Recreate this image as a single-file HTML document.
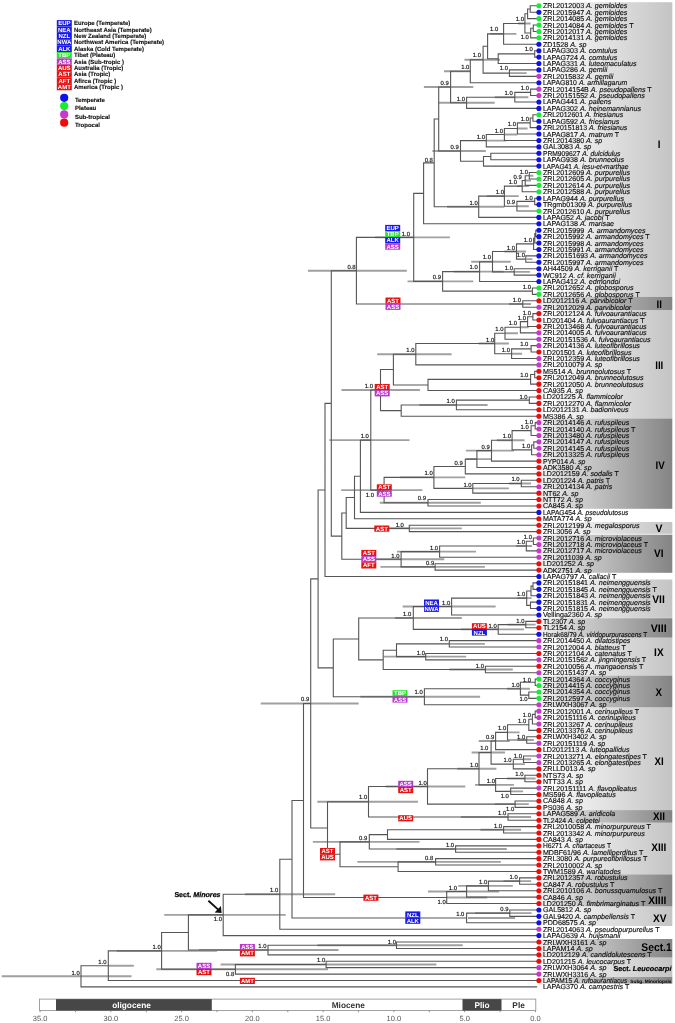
<!DOCTYPE html><html><head><meta charset="utf-8"><style>
html,body{margin:0;padding:0;background:#fff;}
svg{display:block;}
text{font-family:"Liberation Sans",Arial,sans-serif;text-rendering:geometricPrecision;}
.lf{font-size:7.14px;fill:#111;stroke:#111;stroke-width:0.15px;}
.nl{font-size:5.9px;fill:#111;stroke:#111;stroke-width:0.16px;}
.rb{font-size:6px;font-weight:bold;fill:#fff;}
.lg{font-size:6px;font-weight:bold;fill:#111;stroke:#111;stroke-width:0.12px;}
.bl{font-weight:bold;fill:#000;}
.ax{font-size:7.5px;fill:#555;}
</style></head><body>
<svg width="675" height="1023" viewBox="0 0 675 1023">
<defs>
<linearGradient id="gl" x1="0" x2="1" y1="0" y2="0"><stop offset="0" stop-color="#ffffff"/><stop offset="0.15" stop-color="#f6f6f6"/><stop offset="1" stop-color="#c4c4c4"/></linearGradient>
<linearGradient id="gd" x1="0" x2="1" y1="0" y2="0"><stop offset="0" stop-color="#f0f0f0"/><stop offset="0.15" stop-color="#dedede"/><stop offset="1" stop-color="#848484"/></linearGradient>
</defs>
<rect x="541.0" y="2.20" width="131.3" height="294.70" fill="url(#gl)"/>
<rect x="541.0" y="296.90" width="131.3" height="13.10" fill="url(#gd)"/>
<rect x="541.0" y="310.00" width="131.3" height="108.50" fill="url(#gl)"/>
<rect x="541.0" y="418.50" width="131.3" height="90.30" fill="url(#gd)"/>
<rect x="541.0" y="522.00" width="131.3" height="11.80" fill="url(#gl)"/>
<rect x="541.0" y="534.70" width="131.3" height="38.10" fill="url(#gd)"/>
<rect x="541.0" y="579.50" width="131.3" height="38.40" fill="url(#gl)"/>
<rect x="541.0" y="618.20" width="131.3" height="19.50" fill="url(#gd)"/>
<rect x="541.0" y="638.00" width="131.3" height="37.60" fill="url(#gl)"/>
<rect x="541.0" y="675.60" width="131.3" height="32.00" fill="url(#gd)"/>
<rect x="541.0" y="707.60" width="131.3" height="102.50" fill="url(#gl)"/>
<rect x="541.0" y="810.10" width="131.3" height="12.70" fill="url(#gd)"/>
<rect x="541.0" y="822.80" width="131.3" height="51.60" fill="url(#gl)"/>
<rect x="541.0" y="874.40" width="131.3" height="32.20" fill="url(#gd)"/>
<rect x="541.0" y="906.90" width="131.3" height="19.10" fill="url(#gl)"/>
<rect x="541.0" y="939.00" width="131.3" height="18.70" fill="url(#gd)"/>
<rect x="541.0" y="957.70" width="131.3" height="19.30" fill="url(#gl)"/>
<rect x="541.0" y="977.00" width="131.3" height="6.70" fill="url(#gd)"/>
<path d="M518.00 23.43H530.70M490.00 33.85H516.40M509.00 73.13H526.70M464.40 59.71H500.00M444.00 71.23H470.70M494.70 97.18H528.40M438.70 102.79H494.70M423.90 87.01H473.30M517.40 128.44H527.60M504.40 134.45H517.40M486.30 140.66H506.20M432.40 150.98H485.80M530.00 175.73H533.40M524.60 180.54H531.00M517.00 186.15H529.00M517.00 206.19H528.80M486.70 196.17H518.70M447.00 206.79H504.40M526.70 259.09H532.40M504.40 251.48H526.10M514.00 271.92H530.00M471.20 261.70H510.70M453.80 271.62H503.60M407.50 281.39H473.30M375.00 237.37H449.90M508.90 303.98H531.10M307.90 270.68H406.80M520.00 327.23H528.80M505.00 333.24H518.00M511.60 353.68H522.20M478.70 343.46H508.90M377.20 354.18H451.60M419.30 404.98H487.60M341.50 390.07H419.90M496.80 440.25H524.50M465.90 450.67H513.90M466.20 459.08H491.10M508.90 483.53H531.10M472.80 488.34H508.90M400.00 477.42H465.30M379.80 502.77H480.80M341.20 490.09H422.40M329.30 440.08H409.50M380.00 528.42H461.80M516.00 546.05H532.00M397.00 551.66H476.00M380.40 566.89H484.90M375.00 559.28H444.30M517.40 598.15H531.60M402.70 606.57H495.60M507.50 624.61H535.60M460.90 629.42H524.00M395.00 617.99H461.80M449.30 643.84H484.90M383.70 656.67H466.20M449.30 669.49H512.80M507.00 688.73H530.00M360.40 696.75H480.10M517.40 740.03H533.80M507.50 732.42H519.60M478.70 741.03H509.80M523.50 759.27H531.10M513.30 764.08H524.90M471.60 752.56H505.00M507.00 778.51H535.60M510.70 791.33H523.10M475.00 784.92H513.90M457.30 768.74H496.40M494.70 804.16H528.80M385.60 786.45H465.30M460.90 816.98H531.10M317.30 801.71H417.90M480.40 829.81H521.00M396.30 849.04H506.80M312.80 841.83H419.50M357.30 861.87H500.90M260.80 703.44H358.70M503.60 881.11H531.10M458.20 885.92H512.80M428.00 891.53H499.10M446.70 897.54H487.20M475.00 913.17H531.60M468.00 917.98H515.10M245.00 894.22H335.20M164.20 914.91H285.80M317.30 945.23H462.70M199.00 950.04H338.50M220.60 964.47H436.40M156.30 969.28H328.10M116.70 950.88H217.00M108.30 965.69H133.80M1.70 976.30H131.50" stroke="#a0a0a0" stroke-width="1.9" fill="none"/>
<path d="M530.20 5.80V12.21M530.20 5.80H536.60M530.20 12.21H536.60M527.60 9.01V18.62M527.60 9.01H530.20M527.60 18.62H536.60M533.30 25.04V31.45M533.30 25.04H536.60M533.30 31.45H536.60M530.70 28.24V37.86M530.70 28.24H533.30M530.70 37.86H536.60M524.90 13.82V33.05M524.90 13.82H527.60M524.90 33.05H530.70M503.60 23.43V44.27M503.60 23.43H524.90M503.60 44.27H536.60M534.70 50.69V57.10M534.70 50.69H536.60M534.70 57.10H536.60M498.20 53.89V63.51M498.20 53.89H534.70M498.20 63.51H536.60M487.60 33.85V58.70M487.60 33.85H503.60M487.60 58.70H498.20M509.40 69.92V76.34M509.40 69.92H536.60M509.40 76.34H536.60M483.10 46.28V73.13M483.10 46.28H487.60M483.10 73.13H509.40M470.30 59.71V82.75M470.30 59.71H483.10M470.30 82.75H536.60M530.60 89.16V95.57M530.60 89.16H536.60M530.60 95.57H536.60M514.80 92.37V101.99M514.80 92.37H530.60M514.80 101.99H536.60M466.60 97.18V108.40M466.60 97.18H514.80M466.60 108.40H536.60M450.60 71.23V102.79M450.60 71.23H470.30M450.60 102.79H466.60M532.90 114.81V121.22M532.90 114.81H536.60M532.90 121.22H536.60M530.20 118.02V127.64M530.20 118.02H532.90M530.20 127.64H536.60M517.40 122.83V134.05M517.40 122.83H530.20M517.40 134.05H536.60M504.40 128.44V140.46M504.40 128.44H517.40M504.40 140.46H536.60M486.30 134.45V146.88M486.30 134.45H504.40M486.30 146.88H536.60M490.80 153.29V159.70M490.80 153.29H536.60M490.80 159.70H536.60M483.50 156.49V166.11M483.50 156.49H490.80M483.50 166.11H536.60M460.50 140.66V161.30M460.50 140.66H486.30M460.50 161.30H483.50M438.70 87.01V150.98M438.70 87.01H450.60M438.70 150.98H460.50M529.30 172.53V178.94M529.30 172.53H536.60M529.30 178.94H536.60M525.20 175.73V185.35M525.20 175.73H529.30M525.20 185.35H536.60M522.20 180.54V191.76M522.20 180.54H525.20M522.20 191.76H536.60M534.70 198.18V204.59M534.70 198.18H536.60M534.70 204.59H536.60M516.90 201.38V211.00M516.90 201.38H534.70M516.90 211.00H536.60M504.40 186.15V206.19M504.40 186.15H522.20M504.40 206.19H516.90M478.70 196.17V217.41M478.70 196.17H504.40M478.70 217.41H536.60M434.20 119.00V206.79M434.20 119.00H438.70M434.20 206.79H478.70M423.60 162.89V223.82M423.60 162.89H434.20M423.60 223.82H536.60M535.80 230.24V236.65M535.80 230.24H536.60M535.80 236.65H536.60M534.80 233.44V243.06M534.80 233.44H535.80M534.80 243.06H536.60M533.60 238.25V249.47M533.60 238.25H534.80M533.60 249.47H536.60M525.80 255.89V262.30M525.80 255.89H536.60M525.80 262.30H536.60M516.50 243.86V259.09M516.50 243.86H533.60M516.50 259.09H525.80M514.20 268.71V275.12M514.20 268.71H536.60M514.20 275.12H536.60M492.50 251.48V271.92M492.50 251.48H516.50M492.50 271.92H514.20M479.60 261.70V281.54M479.60 261.70H492.50M479.60 281.54H536.60M532.40 287.95V294.36M532.40 287.95H536.60M532.40 294.36H536.60M442.60 271.62V291.16M442.60 271.62H479.60M442.60 291.16H532.40M413.70 193.36V281.39M413.70 193.36H423.60M413.70 281.39H442.60M522.80 300.77V307.19M522.80 300.77H536.60M522.80 307.19H536.60M356.40 237.37V303.98M356.40 237.37H413.70M356.40 303.98H522.80M532.90 313.60V320.01M532.90 313.60H536.60M532.90 320.01H536.60M527.60 316.81V326.43M527.60 316.81H532.90M527.60 326.43H536.60M520.40 321.62V332.84M520.40 321.62H527.60M520.40 332.84H536.60M505.00 327.23V339.25M505.00 327.23H520.40M505.00 339.25H536.60M531.10 345.66V352.07M531.10 345.66H536.60M531.10 352.07H536.60M511.60 348.87V358.49M511.60 348.87H531.10M511.60 358.49H536.60M494.70 333.24V353.68M494.70 333.24H505.00M494.70 353.68H511.60M415.80 343.46V364.90M415.80 343.46H494.70M415.80 364.90H536.60M534.70 371.31V377.72M534.70 371.31H536.60M534.70 377.72H536.60M530.60 374.52V384.14M530.60 374.52H534.70M530.60 384.14H536.60M428.00 379.33V390.55M428.00 379.33H530.60M428.00 390.55H536.60M393.40 354.18V384.94M393.40 354.18H415.80M393.40 384.94H428.00M529.30 396.96V403.38M529.30 396.96H536.60M529.30 403.38H536.60M456.40 400.17V409.79M456.40 400.17H529.30M456.40 409.79H536.60M401.20 404.98V416.20M401.20 404.98H456.40M401.20 416.20H536.60M380.50 369.56V410.59M380.50 369.56H393.40M380.50 410.59H401.20M535.20 422.61V429.02M535.20 422.61H536.60M535.20 429.02H536.60M531.10 425.82V435.44M531.10 425.82H535.20M531.10 435.44H536.60M533.80 441.85V448.26M533.80 441.85H536.60M533.80 448.26H536.60M531.60 445.06V454.68M531.60 445.06H533.80M531.60 454.68H536.60M512.10 430.63V449.87M512.10 430.63H531.10M512.10 449.87H531.60M491.50 440.25V461.09M491.50 440.25H512.10M491.50 461.09H536.60M476.90 450.67V467.50M476.90 450.67H491.50M476.90 467.50H536.60M465.30 459.08V473.91M465.30 459.08H476.90M465.30 473.91H536.60M521.30 480.32V486.74M521.30 480.32H536.60M521.30 486.74H536.60M472.80 483.53V493.15M472.80 483.53H521.30M472.80 493.15H536.60M433.90 466.50V488.34M433.90 466.50H465.30M433.90 488.34H472.80M428.00 499.56V505.97M428.00 499.56H536.60M428.00 505.97H536.60M384.10 477.42V502.77M384.10 477.42H433.90M384.10 502.77H428.00M370.80 390.07V490.09M370.80 390.07H380.50M370.80 490.09H384.10M360.40 440.08V512.39M360.40 440.08H370.80M360.40 512.39H536.60M354.50 476.24V518.80M354.50 476.24H360.40M354.50 518.80H536.60M409.30 525.21V531.62M409.30 525.21H536.60M409.30 531.62H536.60M346.20 497.52V528.42M346.20 497.52H354.50M346.20 528.42H409.30M533.40 538.04V544.45M533.40 538.04H536.60M533.40 544.45H536.60M526.30 541.24V550.86M526.30 541.24H533.40M526.30 550.86H536.60M439.60 546.05V557.27M439.60 546.05H526.30M439.60 557.27H536.60M435.10 563.69V570.10M435.10 563.69H536.60M435.10 570.10H536.60M401.10 551.66V566.89M401.10 551.66H439.60M401.10 566.89H435.10M341.80 512.97V559.28M341.80 512.97H346.20M341.80 559.28H401.10M331.30 270.68V536.12M331.30 270.68H356.40M331.30 536.12H341.80M325.00 403.40V576.51M325.00 403.40H331.30M325.00 576.51H536.60M533.00 582.92V589.34M533.00 582.92H536.60M533.00 589.34H536.60M531.00 586.13V595.75M531.00 586.13H533.00M531.00 595.75H536.60M530.50 602.16V608.57M530.50 602.16H536.60M530.50 608.57H536.60M526.70 590.94V605.37M526.70 590.94H531.00M526.70 605.37H530.50M451.60 598.15V614.99M451.60 598.15H526.70M451.60 614.99H536.60M525.80 621.40V627.81M525.80 621.40H536.60M525.80 627.81H536.60M498.20 624.61V634.22M498.20 624.61H525.80M498.20 634.22H536.60M413.30 606.57V629.42M413.30 606.57H451.60M413.30 629.42H498.20M449.30 640.64V647.05M449.30 640.64H536.60M449.30 647.05H536.60M425.70 653.46V659.87M425.70 653.46H536.60M425.70 659.87H536.60M396.50 643.84V656.67M396.50 643.84H449.30M396.50 656.67H425.70M485.40 666.29V672.70M485.40 666.29H536.60M485.40 672.70H536.60M383.20 650.26V669.49M383.20 650.26H396.50M383.20 669.49H485.40M358.70 617.99V659.87M358.70 617.99H413.30M358.70 659.87H383.20M535.20 679.11V685.52M535.20 679.11H536.60M535.20 685.52H536.60M528.80 691.94V698.35M528.80 691.94H536.60M528.80 698.35H536.60M520.40 682.32V695.14M520.40 682.32H535.20M520.40 695.14H528.80M424.40 688.73V704.76M424.40 688.73H520.40M424.40 704.76H536.60M333.30 638.93V696.75M333.30 638.93H358.70M333.30 696.75H424.40M318.10 489.96V667.84M318.10 489.96H325.00M318.10 667.84H333.30M535.20 711.17V717.59M535.20 711.17H536.60M535.20 717.59H536.60M532.40 714.38V724.00M532.40 714.38H535.20M532.40 724.00H536.60M528.80 719.19V730.41M528.80 719.19H532.40M528.80 730.41H536.60M526.70 736.82V743.24M526.70 736.82H536.60M526.70 743.24H536.60M507.50 724.80V740.03M507.50 724.80H528.80M507.50 740.03H526.70M495.60 732.42V749.65M495.60 732.42H507.50M495.60 749.65H536.60M523.50 756.06V762.47M523.50 756.06H536.60M523.50 762.47H536.60M513.30 759.27V768.89M513.30 759.27H523.50M513.30 768.89H536.60M491.10 741.03V764.08M491.10 741.03H495.60M491.10 764.08H513.30M524.90 775.30V781.71M524.90 775.30H536.60M524.90 781.71H536.60M510.70 788.12V794.54M510.70 788.12H536.60M510.70 794.54H536.60M495.60 778.51V791.33M495.60 778.51H524.90M495.60 791.33H510.70M479.00 752.56V784.92M479.00 752.56H491.10M479.00 784.92H495.60M515.10 800.95V807.36M515.10 800.95H536.60M515.10 807.36H536.60M427.50 768.74V804.16M427.50 768.74H479.00M427.50 804.16H515.10M508.00 813.77V820.19M508.00 813.77H536.60M508.00 820.19H536.60M368.50 786.45V816.98M368.50 786.45H427.50M368.50 816.98H508.00M503.60 826.60V833.01M503.60 826.60H536.60M503.60 833.01H536.60M387.50 829.81V839.42M387.50 829.81H503.60M387.50 839.42H536.60M455.60 845.84V852.25M455.60 845.84H536.60M455.60 852.25H536.60M369.30 834.62V849.04M369.30 834.62H387.50M369.30 849.04H455.60M435.60 858.66V865.07M435.60 858.66H536.60M435.60 865.07H536.60M398.10 861.87V871.49M398.10 861.87H435.60M398.10 871.49H536.60M340.00 841.83V866.68M340.00 841.83H369.30M340.00 866.68H398.10M327.50 801.71V854.25M327.50 801.71H368.50M327.50 854.25H340.00M310.70 578.90V827.98M310.70 578.90H318.10M310.70 827.98H327.50M519.60 877.90V884.31M519.60 877.90H536.60M519.60 884.31H536.60M488.40 881.11V890.72M488.40 881.11H519.60M488.40 890.72H536.60M466.60 885.92V897.14M466.60 885.92H488.40M466.60 897.14H536.60M446.70 891.53V903.55M446.70 891.53H466.60M446.70 903.55H536.60M303.50 703.44V897.54M303.50 703.44H310.70M303.50 897.54H446.70M509.80 909.96V916.37M509.80 909.96H536.60M509.80 916.37H536.60M466.60 913.17V922.79M466.60 913.17H509.80M466.60 922.79H536.60M292.00 800.49V917.98M292.00 800.49H303.50M292.00 917.98H466.60M279.80 859.23V929.20M279.80 859.23H292.00M279.80 929.20H536.60M223.20 894.22V935.61M223.20 894.22H279.80M223.20 935.61H536.60M396.50 942.02V948.44M396.50 942.02H536.60M396.50 948.44H536.60M268.00 945.23V954.85M268.00 945.23H396.50M268.00 954.85H536.60M188.40 914.91V950.04M188.40 914.91H223.20M188.40 950.04H268.00M326.10 961.26V967.67M326.10 961.26H536.60M326.10 967.67H536.60M235.40 964.47V974.09M235.40 964.47H326.10M235.40 974.09H536.60M161.60 932.48V969.28M161.60 932.48H188.40M161.60 969.28H235.40M108.30 950.88V980.50M108.30 950.88H161.60M108.30 980.50H536.60M81.00 965.69V986.91M81.00 965.69H108.30M81.00 986.91H536.60" stroke="#565656" stroke-width="1.1" fill="none" stroke-linecap="square"/>
<text class="nl" x="528.9" y="39.0" text-anchor="end">1.0</text>
<text class="nl" x="524.0" y="21.1" text-anchor="end">1.0</text>
<text class="nl" x="498.2" y="31.4" text-anchor="end">1.0</text>
<text class="nl" x="532.9" y="51.3" text-anchor="end">1.0</text>
<text class="nl" x="508.0" y="70.3" text-anchor="end">1.0</text>
<text class="nl" x="481.0" y="57.0" text-anchor="end">1.0</text>
<text class="nl" x="469.4" y="69.4" text-anchor="end">1.0</text>
<text class="nl" x="529.0" y="90.4" text-anchor="end">1.0</text>
<text class="nl" x="512.8" y="95.2" text-anchor="end">1.0</text>
<text class="nl" x="465.0" y="100.5" text-anchor="end">1.0</text>
<text class="nl" x="448.8" y="84.7" text-anchor="end">0.9</text>
<text class="nl" x="529.0" y="120.8" text-anchor="end">1.0</text>
<text class="nl" x="516.0" y="126.1" text-anchor="end">1.0</text>
<text class="nl" x="503.0" y="132.7" text-anchor="end">1.0</text>
<text class="nl" x="485.0" y="138.5" text-anchor="end">1.0</text>
<text class="nl" x="458.8" y="149.2" text-anchor="end">0.9</text>
<text class="nl" x="528.0" y="173.9" text-anchor="end">1.0</text>
<text class="nl" x="521.7" y="178.9" text-anchor="end">0.9</text>
<text class="nl" x="517.0" y="184.1" text-anchor="end">1.0</text>
<text class="nl" x="532.9" y="199.7" text-anchor="end">1.0</text>
<text class="nl" x="515.0" y="204.1" text-anchor="end">0.9</text>
<text class="nl" x="504.0" y="194.0" text-anchor="end">1.0</text>
<text class="nl" x="477.8" y="204.6" text-anchor="end">1.0</text>
<text class="nl" x="432.9" y="161.5" text-anchor="end">0.8</text>
<text class="nl" x="532.0" y="242.1" text-anchor="end">1.0</text>
<text class="nl" x="525.0" y="256.8" text-anchor="end">1.0</text>
<text class="nl" x="515.0" y="249.7" text-anchor="end">1.0</text>
<text class="nl" x="513.0" y="269.7" text-anchor="end">1.0</text>
<text class="nl" x="491.0" y="259.4" text-anchor="end">1.0</text>
<text class="nl" x="477.8" y="269.1" text-anchor="end">1.0</text>
<text class="nl" x="531.0" y="289.3" text-anchor="end">1.0</text>
<text class="nl" x="441.0" y="279.0" text-anchor="end">0.9</text>
<text class="nl" x="410.0" y="236.1" text-anchor="end">1.0</text>
<text class="nl" x="521.0" y="302.2" text-anchor="end">1.0</text>
<text class="nl" x="355.6" y="268.8" text-anchor="end">0.8</text>
<text class="nl" x="531.0" y="314.9" text-anchor="end">1.0</text>
<text class="nl" x="526.0" y="319.7" text-anchor="end">1.0</text>
<text class="nl" x="517.0" y="325.1" text-anchor="end">1.0</text>
<text class="nl" x="503.5" y="330.9" text-anchor="end">1.0</text>
<text class="nl" x="528.4" y="346.3" text-anchor="end">1.0</text>
<text class="nl" x="510.0" y="351.7" text-anchor="end">1.0</text>
<text class="nl" x="494.3" y="341.5" text-anchor="end">1.0</text>
<text class="nl" x="414.5" y="352.1" text-anchor="end">1.0</text>
<text class="nl" x="528.4" y="377.2" text-anchor="end">1.0</text>
<text class="nl" x="527.6" y="398.5" text-anchor="end">1.0</text>
<text class="nl" x="454.7" y="402.6" text-anchor="end">1.0</text>
<text class="nl" x="373.0" y="388.1" text-anchor="end">1.0</text>
<text class="nl" x="533.0" y="424.3" text-anchor="end">1.0</text>
<text class="nl" x="528.8" y="429.3" text-anchor="end">1.0</text>
<text class="nl" x="530.2" y="447.9" text-anchor="end">1.0</text>
<text class="nl" x="511.0" y="438.1" text-anchor="end">1.0</text>
<text class="nl" x="489.7" y="449.1" text-anchor="end">0.9</text>
<text class="nl" x="462.7" y="464.8" text-anchor="end">0.9</text>
<text class="nl" x="519.6" y="480.8" text-anchor="end">1.0</text>
<text class="nl" x="471.6" y="486.5" text-anchor="end">1.0</text>
<text class="nl" x="432.8" y="475.4" text-anchor="end">1.0</text>
<text class="nl" x="426.0" y="500.1" text-anchor="end">0.9</text>
<text class="nl" x="374.0" y="496.5" text-anchor="end">1.0</text>
<text class="nl" x="368.9" y="438.0" text-anchor="end">1.0</text>
<text class="nl" x="403.9" y="527.0" text-anchor="end">1.0</text>
<text class="nl" x="532.0" y="539.2" text-anchor="end">1.0</text>
<text class="nl" x="525.0" y="544.0" text-anchor="end">1.0</text>
<text class="nl" x="438.1" y="549.9" text-anchor="end">1.0</text>
<text class="nl" x="434.2" y="565.0" text-anchor="end">0.9</text>
<text class="nl" x="399.5" y="558.4" text-anchor="end">1.0</text>
<text class="nl" x="525.2" y="595.5" text-anchor="end">1.0</text>
<text class="nl" x="450.2" y="604.8" text-anchor="end">1.0</text>
<text class="nl" x="524.5" y="622.5" text-anchor="end">1.0</text>
<text class="nl" x="496.8" y="627.9" text-anchor="end">1.0</text>
<text class="nl" x="411.2" y="616.0" text-anchor="end">1.0</text>
<text class="nl" x="448.0" y="641.3" text-anchor="end">1.0</text>
<text class="nl" x="425.0" y="655.1" text-anchor="end">1.0</text>
<text class="nl" x="484.0" y="667.7" text-anchor="end">1.0</text>
<text class="nl" x="531.0" y="681.5" text-anchor="end">1.0</text>
<text class="nl" x="527.6" y="701.4" text-anchor="end">1.0</text>
<text class="nl" x="519.6" y="686.9" text-anchor="end">1.0</text>
<text class="nl" x="422.7" y="694.1" text-anchor="end">1.0</text>
<text class="nl" x="531.0" y="717.1" text-anchor="end">1.0</text>
<text class="nl" x="526.3" y="723.1" text-anchor="end">1.0</text>
<text class="nl" x="525.2" y="738.5" text-anchor="end">1.0</text>
<text class="nl" x="506.2" y="730.2" text-anchor="end">1.0</text>
<text class="nl" x="494.3" y="739.4" text-anchor="end">0.9</text>
<text class="nl" x="522.0" y="757.6" text-anchor="end">1.0</text>
<text class="nl" x="511.6" y="762.1" text-anchor="end">1.0</text>
<text class="nl" x="488.4" y="750.1" text-anchor="end">1.0</text>
<text class="nl" x="523.5" y="775.6" text-anchor="end">1.0</text>
<text class="nl" x="508.9" y="798.2" text-anchor="end">1.0</text>
<text class="nl" x="495.0" y="782.7" text-anchor="end">1.0</text>
<text class="nl" x="478.3" y="767.0" text-anchor="end">1.0</text>
<text class="nl" x="514.2" y="810.7" text-anchor="end">1.0</text>
<text class="nl" x="426.7" y="784.8" text-anchor="end">1.0</text>
<text class="nl" x="506.2" y="815.1" text-anchor="end">1.0</text>
<text class="nl" x="367.2" y="798.6" text-anchor="end">1.0</text>
<text class="nl" x="502.1" y="828.1" text-anchor="end">1.0</text>
<text class="nl" x="454.1" y="846.9" text-anchor="end">1.0</text>
<text class="nl" x="367.2" y="840.0" text-anchor="end">0.9</text>
<text class="nl" x="433.3" y="859.9" text-anchor="end">0.8</text>
<text class="nl" x="309.3" y="700.8" text-anchor="end">0.9</text>
<text class="nl" x="517.8" y="879.4" text-anchor="end">1.0</text>
<text class="nl" x="487.2" y="884.2" text-anchor="end">1.0</text>
<text class="nl" x="457.0" y="889.9" text-anchor="end">1.0</text>
<text class="nl" x="445.8" y="904.3" text-anchor="end">1.0</text>
<text class="nl" x="508.5" y="911.4" text-anchor="end">0.9</text>
<text class="nl" x="464.4" y="916.0" text-anchor="end">1.0</text>
<text class="nl" x="278.3" y="892.3" text-anchor="end">1.0</text>
<text class="nl" x="222.0" y="921.4" text-anchor="end">1.0</text>
<text class="nl" x="396.0" y="944.0" text-anchor="end">1.0</text>
<text class="nl" x="266.5" y="947.6" text-anchor="end">1.0</text>
<text class="nl" x="325.2" y="962.1" text-anchor="end">1.0</text>
<text class="nl" x="234.2" y="975.6" text-anchor="end">0.8</text>
<text class="nl" x="160.8" y="949.0" text-anchor="end">1.0</text>
<text class="nl" x="106.5" y="963.8" text-anchor="end">1.0</text>
<text class="nl" x="79.8" y="974.9" text-anchor="end">1.0</text>
<circle cx="538.9" cy="5.80" r="2.55" fill="#18ec30"/>
<text class="lf" x="542.9" y="8.30">ZRL2012003 <tspan font-style="italic">A. gemloides</tspan></text>
<circle cx="538.9" cy="12.21" r="2.55" fill="#1010ee"/>
<text class="lf" x="542.9" y="14.71">ZRL2015947 <tspan font-style="italic">A. gemloides</tspan></text>
<circle cx="538.9" cy="18.62" r="2.55" fill="#18ec30"/>
<text class="lf" x="542.9" y="21.12">ZRL2014085 <tspan font-style="italic">A. gemloides</tspan></text>
<circle cx="538.9" cy="25.04" r="2.55" fill="#18ec30"/>
<text class="lf" x="542.9" y="27.54">ZRL2014084 <tspan font-style="italic">A. gemloides</tspan> T</text>
<circle cx="538.9" cy="31.45" r="2.55" fill="#18ec30"/>
<text class="lf" x="542.9" y="33.95">ZRL2012017 <tspan font-style="italic">A. gemloides</tspan></text>
<circle cx="538.9" cy="37.86" r="2.55" fill="#18ec30"/>
<text class="lf" x="542.9" y="40.36">ZRL2014131 <tspan font-style="italic">A. gemloides</tspan></text>
<circle cx="538.9" cy="44.27" r="2.55" fill="#1010ee"/>
<text class="lf" x="542.9" y="46.77">ZD1528 <tspan font-style="italic">A. sp</tspan></text>
<circle cx="538.9" cy="50.69" r="2.55" fill="#1010ee"/>
<text class="lf" x="542.9" y="53.19">LAPAG303 <tspan font-style="italic">A. comtulus</tspan></text>
<circle cx="538.9" cy="57.10" r="2.55" fill="#1010ee"/>
<text class="lf" x="542.9" y="59.60">LAPAG724 <tspan font-style="italic">A. comtulus</tspan></text>
<circle cx="538.9" cy="63.51" r="2.55" fill="#1010ee"/>
<text class="lf" x="542.9" y="66.01">LAPAG331 <tspan font-style="italic">A. luteomaculatus</tspan></text>
<circle cx="538.9" cy="69.92" r="2.55" fill="#1010ee"/>
<text class="lf" x="542.9" y="72.42">LAPAG286 <tspan font-style="italic">A. gemlii</tspan></text>
<circle cx="538.9" cy="76.34" r="2.55" fill="#c838cc"/>
<text class="lf" x="542.9" y="78.84">ZRL2015832 <tspan font-style="italic">A. gemlii</tspan></text>
<circle cx="538.9" cy="82.75" r="2.55" fill="#1010ee"/>
<text class="lf" x="542.9" y="85.25" textLength="84.4" lengthAdjust="spacingAndGlyphs">LAPAG810 <tspan font-style="italic">A. armillagarum</tspan></text>
<circle cx="538.9" cy="89.16" r="2.55" fill="#c838cc"/>
<text class="lf" x="542.9" y="91.66">ZRL2014154B <tspan font-style="italic">A. pseudopallens</tspan> T</text>
<circle cx="538.9" cy="95.57" r="2.55" fill="#c838cc"/>
<text class="lf" x="542.9" y="98.07">ZRL20151552 <tspan font-style="italic">A. pseudopallens</tspan></text>
<circle cx="538.9" cy="101.99" r="2.55" fill="#1010ee"/>
<text class="lf" x="542.9" y="104.49">LAPAG441 <tspan font-style="italic">A. pallens</tspan></text>
<circle cx="538.9" cy="108.40" r="2.55" fill="#1010ee"/>
<text class="lf" x="542.9" y="110.90">LAPAG302 <tspan font-style="italic">A. heinemannianus</tspan></text>
<circle cx="538.9" cy="114.81" r="2.55" fill="#18ec30"/>
<text class="lf" x="542.9" y="117.31" textLength="80.3" lengthAdjust="spacingAndGlyphs">ZRL2012601 <tspan font-style="italic">A. friesianus</tspan></text>
<circle cx="538.9" cy="121.22" r="2.55" fill="#1010ee"/>
<text class="lf" x="542.9" y="123.72">LAPAG592 <tspan font-style="italic">A. friesianus</tspan></text>
<circle cx="538.9" cy="127.64" r="2.55" fill="#1010ee"/>
<text class="lf" x="542.9" y="130.14" textLength="84.4" lengthAdjust="spacingAndGlyphs">ZRL20151813 <tspan font-style="italic">A. friesianus</tspan></text>
<circle cx="538.9" cy="134.05" r="2.55" fill="#1010ee"/>
<text class="lf" x="542.9" y="136.55">LAPAG817 <tspan font-style="italic">A. matrum</tspan> T</text>
<circle cx="538.9" cy="140.46" r="2.55" fill="#1010ee"/>
<text class="lf" x="542.9" y="142.96">ZRL2014380 <tspan font-style="italic">A. sp</tspan></text>
<circle cx="538.9" cy="146.88" r="2.55" fill="#1010ee"/>
<text class="lf" x="542.9" y="149.38">GAL3083 <tspan font-style="italic">A. sp</tspan></text>
<circle cx="538.9" cy="153.29" r="2.55" fill="#1010ee"/>
<text class="lf" x="542.9" y="155.79" textLength="77.5" lengthAdjust="spacingAndGlyphs">PRM909627 <tspan font-style="italic">A. dulcidulus</tspan></text>
<circle cx="538.9" cy="159.70" r="2.55" fill="#1010ee"/>
<text class="lf" x="542.9" y="162.20">LAPAG938 <tspan font-style="italic">A. brunneolus</tspan></text>
<circle cx="538.9" cy="166.11" r="2.55" fill="#1010ee"/>
<text class="lf" x="542.9" y="168.61" textLength="85.6" lengthAdjust="spacingAndGlyphs">LAPAG41 <tspan font-style="italic">A. iesu-et-marthae</tspan></text>
<circle cx="538.9" cy="172.53" r="2.55" fill="#18ec30"/>
<text class="lf" x="542.9" y="175.03">ZRL2012609 <tspan font-style="italic">A. purpurellus</tspan></text>
<circle cx="538.9" cy="178.94" r="2.55" fill="#18ec30"/>
<text class="lf" x="542.9" y="181.44">ZRL2012605 <tspan font-style="italic">A. purpurellus</tspan></text>
<circle cx="538.9" cy="185.35" r="2.55" fill="#18ec30"/>
<text class="lf" x="542.9" y="187.85">ZRL2012614 <tspan font-style="italic">A. purpurellus</tspan></text>
<circle cx="538.9" cy="191.76" r="2.55" fill="#18ec30"/>
<text class="lf" x="542.9" y="194.26">ZRL2012588 <tspan font-style="italic">A. purpurellus</tspan></text>
<circle cx="538.9" cy="198.18" r="2.55" fill="#1010ee"/>
<text class="lf" x="542.9" y="200.68">LAPAG944 <tspan font-style="italic">A. purpurellus</tspan></text>
<circle cx="538.9" cy="204.59" r="2.55" fill="#1010ee"/>
<text class="lf" x="542.9" y="207.09">TRgmb01309 <tspan font-style="italic">A. purpurellus</tspan></text>
<circle cx="538.9" cy="211.00" r="2.55" fill="#18ec30"/>
<text class="lf" x="542.9" y="213.50">ZRL2012610 <tspan font-style="italic">A. purpurellus</tspan></text>
<circle cx="538.9" cy="217.41" r="2.55" fill="#1010ee"/>
<text class="lf" x="542.9" y="219.91">LAPAG52 <tspan font-style="italic">A. jacobi</tspan> T</text>
<circle cx="538.9" cy="223.82" r="2.55" fill="#1010ee"/>
<text class="lf" x="542.9" y="226.32">LAPAG138 <tspan font-style="italic">A. marisae</tspan></text>
<circle cx="538.9" cy="230.24" r="2.55" fill="#1010ee"/>
<text class="lf" x="542.9" y="232.74">ZRL2015999&#160; <tspan font-style="italic">A. armandomyces</tspan></text>
<circle cx="538.9" cy="236.65" r="2.55" fill="#1010ee"/>
<text class="lf" x="542.9" y="239.15">ZRL2015992 <tspan font-style="italic">A. armandomyces</tspan> T</text>
<circle cx="538.9" cy="243.06" r="2.55" fill="#1010ee"/>
<text class="lf" x="542.9" y="245.56">ZRL2015998 <tspan font-style="italic">A. armandomyces</tspan></text>
<circle cx="538.9" cy="249.47" r="2.55" fill="#1010ee"/>
<text class="lf" x="542.9" y="251.97">ZRL2015991 <tspan font-style="italic">A. armandomyces</tspan></text>
<circle cx="538.9" cy="255.89" r="2.55" fill="#1010ee"/>
<text class="lf" x="542.9" y="258.39">ZRL20151693 <tspan font-style="italic">A. armandomyces</tspan></text>
<circle cx="538.9" cy="262.30" r="2.55" fill="#1010ee"/>
<text class="lf" x="542.9" y="264.80">ZRL2015997 <tspan font-style="italic">A. armandomyces</tspan></text>
<circle cx="538.9" cy="268.71" r="2.55" fill="#1010ee"/>
<text class="lf" x="542.9" y="271.21">AH44509 <tspan font-style="italic">A. kerriganii</tspan> T</text>
<circle cx="538.9" cy="275.12" r="2.55" fill="#1010ee"/>
<text class="lf" x="542.9" y="277.62">WC912 <tspan font-style="italic">A. cf. kerriganii</tspan></text>
<circle cx="538.9" cy="281.54" r="2.55" fill="#1010ee"/>
<text class="lf" x="542.9" y="284.04">LAPAG412 <tspan font-style="italic">A. edmondoi</tspan></text>
<circle cx="538.9" cy="287.95" r="2.55" fill="#18ec30"/>
<text class="lf" x="542.9" y="290.45">ZRL2012652 <tspan font-style="italic">A. globosporus</tspan></text>
<circle cx="538.9" cy="294.36" r="2.55" fill="#18ec30"/>
<text class="lf" x="542.9" y="296.86">ZRL2012656 <tspan font-style="italic">A. globosporus</tspan> T</text>
<circle cx="538.9" cy="300.77" r="2.55" fill="#f00a0a"/>
<text class="lf" x="542.9" y="303.27">LD2012116 <tspan font-style="italic">A. parvibicolor</tspan> T</text>
<circle cx="538.9" cy="307.19" r="2.55" fill="#c838cc"/>
<text class="lf" x="542.9" y="309.69">ZRL2012029 <tspan font-style="italic">A. parvibicolor</tspan></text>
<circle cx="538.9" cy="313.60" r="2.55" fill="#f00a0a"/>
<text class="lf" x="542.9" y="316.10">ZRL2012124 <tspan font-style="italic">A. fulvoaurantiacus</tspan></text>
<circle cx="538.9" cy="320.01" r="2.55" fill="#f00a0a"/>
<text class="lf" x="542.9" y="322.51">LD201404 <tspan font-style="italic">A. fulvoaurantiacus</tspan> T</text>
<circle cx="538.9" cy="326.43" r="2.55" fill="#f00a0a"/>
<text class="lf" x="542.9" y="328.93">ZRL2013468 <tspan font-style="italic">A. fulvoaurantiacus</tspan></text>
<circle cx="538.9" cy="332.84" r="2.55" fill="#c838cc"/>
<text class="lf" x="542.9" y="335.34">ZRL2014005 <tspan font-style="italic">A. fulvoaurantiacus</tspan></text>
<circle cx="538.9" cy="339.25" r="2.55" fill="#c838cc"/>
<text class="lf" x="542.9" y="341.75">ZRL20151536 <tspan font-style="italic">A. fulvoaurantiacus</tspan></text>
<circle cx="538.9" cy="345.66" r="2.55" fill="#c838cc"/>
<text class="lf" x="542.9" y="348.16">ZRL2014136 <tspan font-style="italic">A. luteofibrillosus</tspan></text>
<circle cx="538.9" cy="352.07" r="2.55" fill="#f00a0a"/>
<text class="lf" x="542.9" y="354.57">LD201501 <tspan font-style="italic">A. luteofibrillosus</tspan></text>
<circle cx="538.9" cy="358.49" r="2.55" fill="#c838cc"/>
<text class="lf" x="542.9" y="360.99">ZRL2012359 <tspan font-style="italic">A. luteofibrillosus</tspan></text>
<circle cx="538.9" cy="364.90" r="2.55" fill="#c838cc"/>
<text class="lf" x="542.9" y="367.40">ZRL2010079 <tspan font-style="italic">A. sp</tspan></text>
<circle cx="538.9" cy="371.31" r="2.55" fill="#f00a0a"/>
<text class="lf" x="542.9" y="373.81">MS514 <tspan font-style="italic">A. brunneolutosus</tspan> T</text>
<circle cx="538.9" cy="377.72" r="2.55" fill="#f00a0a"/>
<text class="lf" x="542.9" y="380.22">ZRL2012049 <tspan font-style="italic">A. brunneolutosus</tspan></text>
<circle cx="538.9" cy="384.14" r="2.55" fill="#f00a0a"/>
<text class="lf" x="542.9" y="386.64">ZRL2012050 <tspan font-style="italic">A. brunneolutosus</tspan></text>
<circle cx="538.9" cy="390.55" r="2.55" fill="#f00a0a"/>
<text class="lf" x="542.9" y="393.05">CA935 <tspan font-style="italic">A. sp</tspan></text>
<circle cx="538.9" cy="396.96" r="2.55" fill="#f00a0a"/>
<text class="lf" x="542.9" y="399.46">LD201225 <tspan font-style="italic">A. flammicolor</tspan></text>
<circle cx="538.9" cy="403.38" r="2.55" fill="#f00a0a"/>
<text class="lf" x="542.9" y="405.88">ZRL2012270 <tspan font-style="italic">A. flammicolor</tspan></text>
<circle cx="538.9" cy="409.79" r="2.55" fill="#f00a0a"/>
<text class="lf" x="542.9" y="412.29">LD2012131 <tspan font-style="italic">A. badioniveus</tspan></text>
<circle cx="538.9" cy="416.20" r="2.55" fill="#f00a0a"/>
<text class="lf" x="542.9" y="418.70">MS386 <tspan font-style="italic">A. sp</tspan></text>
<circle cx="538.9" cy="422.61" r="2.55" fill="#c838cc"/>
<text class="lf" x="542.9" y="425.11">ZRL2014146 <tspan font-style="italic">A. rufuspileus</tspan></text>
<circle cx="538.9" cy="429.02" r="2.55" fill="#c838cc"/>
<text class="lf" x="542.9" y="431.52">ZRL2014140 <tspan font-style="italic">A. rufuspileus</tspan> T</text>
<circle cx="538.9" cy="435.44" r="2.55" fill="#c838cc"/>
<text class="lf" x="542.9" y="437.94">ZRL2013480 <tspan font-style="italic">A. rufuspileus</tspan></text>
<circle cx="538.9" cy="441.85" r="2.55" fill="#c838cc"/>
<text class="lf" x="542.9" y="444.35">ZRL2014147 <tspan font-style="italic">A. rufuspileus</tspan></text>
<circle cx="538.9" cy="448.26" r="2.55" fill="#c838cc"/>
<text class="lf" x="542.9" y="450.76">ZRL2014145 <tspan font-style="italic">A. rufuspileus</tspan></text>
<circle cx="538.9" cy="454.68" r="2.55" fill="#c838cc"/>
<text class="lf" x="542.9" y="457.18">ZRL2013325 <tspan font-style="italic">A. rufuspileus</tspan></text>
<circle cx="538.9" cy="461.09" r="2.55" fill="#f00a0a"/>
<text class="lf" x="542.9" y="463.59" textLength="42.5" lengthAdjust="spacingAndGlyphs">PYP014 <tspan font-style="italic">A. sp</tspan></text>
<circle cx="538.9" cy="467.50" r="2.55" fill="#f00a0a"/>
<text class="lf" x="542.9" y="470.00">ADK3580 <tspan font-style="italic">A. sp</tspan></text>
<circle cx="538.9" cy="473.91" r="2.55" fill="#f00a0a"/>
<text class="lf" x="542.9" y="476.41">LD2012159 <tspan font-style="italic">A. sodalis</tspan> T</text>
<circle cx="538.9" cy="480.32" r="2.55" fill="#f00a0a"/>
<text class="lf" x="542.9" y="482.82">LD201224 <tspan font-style="italic">A. patris</tspan> T</text>
<circle cx="538.9" cy="486.74" r="2.55" fill="#c838cc"/>
<text class="lf" x="542.9" y="489.24">ZRL2014134 <tspan font-style="italic">A. patris</tspan></text>
<circle cx="538.9" cy="493.15" r="2.55" fill="#f00a0a"/>
<text class="lf" x="542.9" y="495.65">NT62 <tspan font-style="italic">A. sp</tspan></text>
<circle cx="538.9" cy="499.56" r="2.55" fill="#f00a0a"/>
<text class="lf" x="542.9" y="502.06">NTT72 <tspan font-style="italic">A. sp</tspan></text>
<circle cx="538.9" cy="505.97" r="2.55" fill="#f00a0a"/>
<text class="lf" x="542.9" y="508.47">CA845 <tspan font-style="italic">A. sp</tspan></text>
<circle cx="538.9" cy="512.39" r="2.55" fill="#1010ee"/>
<text class="lf" x="542.9" y="514.89" textLength="85.5" lengthAdjust="spacingAndGlyphs">LAPAG454 <tspan font-style="italic">A. pseudolutosus</tspan></text>
<circle cx="538.9" cy="518.80" r="2.55" fill="#f00a0a"/>
<text class="lf" x="542.9" y="521.30">MATA774 <tspan font-style="italic">A. sp</tspan></text>
<circle cx="538.9" cy="525.21" r="2.55" fill="#f00a0a"/>
<text class="lf" x="542.9" y="527.71">ZRL2012199 <tspan font-style="italic">A. megalosporus</tspan></text>
<circle cx="538.9" cy="531.62" r="2.55" fill="#f00a0a"/>
<text class="lf" x="542.9" y="534.12">ZRL3056 <tspan font-style="italic">A. sp</tspan></text>
<circle cx="538.9" cy="538.04" r="2.55" fill="#c838cc"/>
<text class="lf" x="542.9" y="540.54">ZRL2012716 <tspan font-style="italic">A. microviolaceus</tspan></text>
<circle cx="538.9" cy="544.45" r="2.55" fill="#c838cc"/>
<text class="lf" x="542.9" y="546.95">ZRL2012718 <tspan font-style="italic">A. microviolaceus</tspan> T</text>
<circle cx="538.9" cy="550.86" r="2.55" fill="#c838cc"/>
<text class="lf" x="542.9" y="553.36">ZRL2012717 <tspan font-style="italic">A. microviolaceus</tspan></text>
<circle cx="538.9" cy="557.27" r="2.55" fill="#c838cc"/>
<text class="lf" x="542.9" y="559.77">ZRL2011039 <tspan font-style="italic">A. sp</tspan></text>
<circle cx="538.9" cy="563.69" r="2.55" fill="#f00a0a"/>
<text class="lf" x="542.9" y="566.19">LD201252 <tspan font-style="italic">A. sp</tspan></text>
<circle cx="538.9" cy="570.10" r="2.55" fill="#f00a0a"/>
<text class="lf" x="542.9" y="572.60">ADK2751 <tspan font-style="italic">A. sp</tspan></text>
<circle cx="538.9" cy="576.51" r="2.55" fill="#1010ee"/>
<text class="lf" x="542.9" y="579.01">LAPAG797 <tspan font-style="italic">A. callacii</tspan> T</text>
<circle cx="538.9" cy="582.92" r="2.55" fill="#1010ee"/>
<text class="lf" x="542.9" y="585.42">ZRL20151841 <tspan font-style="italic">A. neimengguensis</tspan></text>
<circle cx="538.9" cy="589.34" r="2.55" fill="#1010ee"/>
<text class="lf" x="542.9" y="591.84">ZRL20151845 <tspan font-style="italic">A. neimengguensis</tspan> T</text>
<circle cx="538.9" cy="595.75" r="2.55" fill="#1010ee"/>
<text class="lf" x="542.9" y="598.25">ZRL20151843 <tspan font-style="italic">A. neimengguensis</tspan></text>
<circle cx="538.9" cy="602.16" r="2.55" fill="#1010ee"/>
<text class="lf" x="542.9" y="604.66">ZRL20151831 <tspan font-style="italic">A. neimengguensis</tspan></text>
<circle cx="538.9" cy="608.57" r="2.55" fill="#1010ee"/>
<text class="lf" x="542.9" y="611.07">ZRL20151815 <tspan font-style="italic">A. neimengguensis</tspan></text>
<circle cx="538.9" cy="614.99" r="2.55" fill="#1010ee"/>
<text class="lf" x="542.9" y="617.49">Vellinga2360 <tspan font-style="italic">A. sp</tspan></text>
<circle cx="538.9" cy="621.40" r="2.55" fill="#f00a0a"/>
<text class="lf" x="542.9" y="623.90">TL2307 <tspan font-style="italic">A. sp</tspan></text>
<circle cx="538.9" cy="627.81" r="2.55" fill="#f00a0a"/>
<text class="lf" x="542.9" y="630.31">TL2154 <tspan font-style="italic">A. sp</tspan></text>
<circle cx="538.9" cy="634.22" r="2.55" fill="#1010ee"/>
<text class="lf" x="542.9" y="636.72" textLength="104.4" lengthAdjust="spacingAndGlyphs">Horak68/79 <tspan font-style="italic">A. viridopurpurascens</tspan> T</text>
<circle cx="538.9" cy="640.64" r="2.55" fill="#c838cc"/>
<text class="lf" x="542.9" y="643.14">ZRL2014450 <tspan font-style="italic">A. dilatostipes</tspan></text>
<circle cx="538.9" cy="647.05" r="2.55" fill="#c838cc"/>
<text class="lf" x="542.9" y="649.55">ZRL2012004 <tspan font-style="italic">A. blatteus</tspan> T</text>
<circle cx="538.9" cy="653.46" r="2.55" fill="#f00a0a"/>
<text class="lf" x="542.9" y="655.96">ZRL2012104 <tspan font-style="italic">A. catenatus</tspan> T</text>
<circle cx="538.9" cy="659.87" r="2.55" fill="#c838cc"/>
<text class="lf" x="542.9" y="662.37">ZRL20151562 <tspan font-style="italic">A. jingningensis</tspan> T</text>
<circle cx="538.9" cy="666.29" r="2.55" fill="#f00a0a"/>
<text class="lf" x="542.9" y="668.79">ZRL2010056 <tspan font-style="italic">A. mangaoensis</tspan> T</text>
<circle cx="538.9" cy="672.70" r="2.55" fill="#c838cc"/>
<text class="lf" x="542.9" y="675.20">ZRL20151437 <tspan font-style="italic">A. sp</tspan></text>
<circle cx="538.9" cy="679.11" r="2.55" fill="#18ec30"/>
<text class="lf" x="542.9" y="681.61">ZRL2014364 <tspan font-style="italic">A. coccyginus</tspan></text>
<circle cx="538.9" cy="685.52" r="2.55" fill="#18ec30"/>
<text class="lf" x="542.9" y="688.02">ZRL2014415 <tspan font-style="italic">A. coccyginus</tspan></text>
<circle cx="538.9" cy="691.94" r="2.55" fill="#18ec30"/>
<text class="lf" x="542.9" y="694.44">ZRL2014354 <tspan font-style="italic">A. coccyginus</tspan></text>
<circle cx="538.9" cy="698.35" r="2.55" fill="#18ec30"/>
<text class="lf" x="542.9" y="700.85">ZRL2012597 <tspan font-style="italic">A. coccyginus</tspan></text>
<circle cx="538.9" cy="704.76" r="2.55" fill="#c838cc"/>
<text class="lf" x="542.9" y="707.26">ZRLWXH3067 <tspan font-style="italic">A. sp</tspan></text>
<circle cx="538.9" cy="711.17" r="2.55" fill="#c838cc"/>
<text class="lf" x="542.9" y="713.67">ZRL2012001 <tspan font-style="italic">A. cerinupileus</tspan> T</text>
<circle cx="538.9" cy="717.59" r="2.55" fill="#c838cc"/>
<text class="lf" x="542.9" y="720.09">ZRL20151116 <tspan font-style="italic">A. cerinupileus</tspan></text>
<circle cx="538.9" cy="724.00" r="2.55" fill="#c838cc"/>
<text class="lf" x="542.9" y="726.50">ZRL2013267 <tspan font-style="italic">A. cerinupileus</tspan></text>
<circle cx="538.9" cy="730.41" r="2.55" fill="#f00a0a"/>
<text class="lf" x="542.9" y="732.91">ZRL2013376 <tspan font-style="italic">A. cerinupileus</tspan></text>
<circle cx="538.9" cy="736.82" r="2.55" fill="#f00a0a"/>
<text class="lf" x="542.9" y="739.32">ZRLWXH3402 <tspan font-style="italic">A. sp</tspan></text>
<circle cx="538.9" cy="743.24" r="2.55" fill="#c838cc"/>
<text class="lf" x="542.9" y="745.74">ZRL20151119 <tspan font-style="italic">A. sp</tspan></text>
<circle cx="538.9" cy="749.65" r="2.55" fill="#f00a0a"/>
<text class="lf" x="542.9" y="752.15">LD2012113 <tspan font-style="italic">A. luteopallidus</tspan></text>
<circle cx="538.9" cy="756.06" r="2.55" fill="#c838cc"/>
<text class="lf" x="542.9" y="758.56">ZRL2013271 <tspan font-style="italic">A. elongatestipes</tspan> T</text>
<circle cx="538.9" cy="762.47" r="2.55" fill="#c838cc"/>
<text class="lf" x="542.9" y="764.97">ZRL2013265 <tspan font-style="italic">A. elongatestipes</tspan></text>
<circle cx="538.9" cy="768.89" r="2.55" fill="#f00a0a"/>
<text class="lf" x="542.9" y="771.39">ZRLLD013 <tspan font-style="italic">A. sp</tspan></text>
<circle cx="538.9" cy="775.30" r="2.55" fill="#f00a0a"/>
<text class="lf" x="542.9" y="777.80">NTS73 <tspan font-style="italic">A. sp</tspan></text>
<circle cx="538.9" cy="781.71" r="2.55" fill="#f00a0a"/>
<text class="lf" x="542.9" y="784.21">NTT33 <tspan font-style="italic">A. sp</tspan></text>
<circle cx="538.9" cy="788.12" r="2.55" fill="#c838cc"/>
<text class="lf" x="542.9" y="790.62">ZRL20151111 <tspan font-style="italic">A. flavopileatus</tspan></text>
<circle cx="538.9" cy="794.54" r="2.55" fill="#f00a0a"/>
<text class="lf" x="542.9" y="797.04">MS596 <tspan font-style="italic">A. flavopileatus</tspan></text>
<circle cx="538.9" cy="800.95" r="2.55" fill="#f00a0a"/>
<text class="lf" x="542.9" y="803.45">CA848 <tspan font-style="italic">A. sp</tspan></text>
<circle cx="538.9" cy="807.36" r="2.55" fill="#f00a0a"/>
<text class="lf" x="542.9" y="809.86">PS036 <tspan font-style="italic">A. sp</tspan></text>
<circle cx="538.9" cy="813.77" r="2.55" fill="#f00a0a"/>
<text class="lf" x="542.9" y="816.27">LAPAG589 <tspan font-style="italic">A. aridicola</tspan></text>
<circle cx="538.9" cy="820.19" r="2.55" fill="#f00a0a"/>
<text class="lf" x="542.9" y="822.69" textLength="57.0" lengthAdjust="spacingAndGlyphs">TL2424 <tspan font-style="italic">A. colpetei</tspan></text>
<circle cx="538.9" cy="826.60" r="2.55" fill="#f00a0a"/>
<text class="lf" x="542.9" y="829.10">ZRL2010058 <tspan font-style="italic">A. minorpurpureus</tspan> T</text>
<circle cx="538.9" cy="833.01" r="2.55" fill="#f00a0a"/>
<text class="lf" x="542.9" y="835.51">ZRL2013342 <tspan font-style="italic">A. minorpurpureus</tspan></text>
<circle cx="538.9" cy="839.42" r="2.55" fill="#f00a0a"/>
<text class="lf" x="542.9" y="841.92">CA843 <tspan font-style="italic">A. sp</tspan></text>
<circle cx="538.9" cy="845.84" r="2.55" fill="#f00a0a"/>
<text class="lf" x="542.9" y="848.34" textLength="68.1" lengthAdjust="spacingAndGlyphs">H6271 <tspan font-style="italic">A. chartaceus</tspan> T</text>
<circle cx="538.9" cy="852.25" r="2.55" fill="#f00a0a"/>
<text class="lf" x="542.9" y="854.75">MDBF61/96 <tspan font-style="italic">A. lamelliperditus</tspan> T</text>
<circle cx="538.9" cy="858.66" r="2.55" fill="#f00a0a"/>
<text class="lf" x="542.9" y="861.16">ZRL3080 <tspan font-style="italic">A. purpureofibrillosus</tspan> T</text>
<circle cx="538.9" cy="865.07" r="2.55" fill="#f00a0a"/>
<text class="lf" x="542.9" y="867.57">ZRL2010002 <tspan font-style="italic">A. sp</tspan></text>
<circle cx="538.9" cy="871.49" r="2.55" fill="#f00a0a"/>
<text class="lf" x="542.9" y="873.99">TWM1589 <tspan font-style="italic">A. wariatodes</tspan></text>
<circle cx="538.9" cy="877.90" r="2.55" fill="#f00a0a"/>
<text class="lf" x="542.9" y="880.40">ZRL2012357 <tspan font-style="italic">A. robustulus</tspan></text>
<circle cx="538.9" cy="884.31" r="2.55" fill="#f00a0a"/>
<text class="lf" x="542.9" y="886.81">CA847 <tspan font-style="italic">A. robustulus</tspan> T</text>
<circle cx="538.9" cy="890.72" r="2.55" fill="#f00a0a"/>
<text class="lf" x="542.9" y="893.22">ZRL2010106 <tspan font-style="italic">A. bonussquamulosus</tspan> T</text>
<circle cx="538.9" cy="897.14" r="2.55" fill="#f00a0a"/>
<text class="lf" x="542.9" y="899.64">CA846 <tspan font-style="italic">A. sp</tspan></text>
<circle cx="538.9" cy="903.55" r="2.55" fill="#f00a0a"/>
<text class="lf" x="542.9" y="906.05">LD201250 <tspan font-style="italic">A. fimbrimarginatus</tspan> T</text>
<circle cx="538.9" cy="909.96" r="2.55" fill="#1010ee"/>
<text class="lf" x="542.9" y="912.46">GAL5812 <tspan font-style="italic">A. sp</tspan></text>
<circle cx="538.9" cy="916.37" r="2.55" fill="#1010ee"/>
<text class="lf" x="542.9" y="918.87">GAL9420 <tspan font-style="italic">A. campbellensis</tspan> T</text>
<circle cx="538.9" cy="922.79" r="2.55" fill="#1010ee"/>
<text class="lf" x="542.9" y="925.29">PDD68575 <tspan font-style="italic">A. sp</tspan></text>
<circle cx="538.9" cy="929.20" r="2.55" fill="#c838cc"/>
<text class="lf" x="542.9" y="931.70">ZRL2014063 <tspan font-style="italic">A. pseudopurpurellus</tspan> T</text>
<circle cx="538.9" cy="935.61" r="2.55" fill="#1010ee"/>
<text class="lf" x="542.9" y="938.11">LAPAG639 <tspan font-style="italic">A. huijsmanii</tspan></text>
<circle cx="538.9" cy="942.02" r="2.55" fill="#f00a0a"/>
<text class="lf" x="542.9" y="944.52">ZRLWXH3161 <tspan font-style="italic">A. sp</tspan></text>
<circle cx="538.9" cy="948.44" r="2.55" fill="#f00a0a"/>
<text class="lf" x="542.9" y="950.94">LAPAM14 <tspan font-style="italic">A. sp</tspan></text>
<circle cx="538.9" cy="954.85" r="2.55" fill="#f00a0a"/>
<text class="lf" x="542.9" y="957.35">LD2012129 <tspan font-style="italic">A. candidolutescens</tspan> T</text>
<circle cx="538.9" cy="961.26" r="2.55" fill="#f00a0a"/>
<text class="lf" x="542.9" y="963.76">LD201215 <tspan font-style="italic">A. leucocarpus</tspan> T</text>
<circle cx="538.9" cy="967.67" r="2.55" fill="#c838cc"/>
<text class="lf" x="542.9" y="970.17">ZRLWXH3064 <tspan font-style="italic">A. sp</tspan></text>
<circle cx="538.9" cy="974.09" r="2.55" fill="#c838cc"/>
<text class="lf" x="542.9" y="976.59">ZRLWXH3316 <tspan font-style="italic">A. sp</tspan></text>
<circle cx="538.9" cy="980.50" r="2.55" fill="#f00a0a"/>
<text class="lf" x="542.9" y="983.00" textLength="84.4" lengthAdjust="spacingAndGlyphs">LAPAM15 <tspan font-style="italic">A. rufoaurantiacus</tspan></text>
<text class="lf" x="542.9" y="989.41">LAPAG370 <tspan font-style="italic">A. campestris</tspan> T</text>
<text class="bl" x="657.8" y="148.0" font-size="11" textLength="2.7" lengthAdjust="spacingAndGlyphs">I</text>
<text class="bl" x="656.5" y="307.5" font-size="11" textLength="5.4" lengthAdjust="spacingAndGlyphs">II</text>
<text class="bl" x="655.2" y="369.0" font-size="11" textLength="8.1" lengthAdjust="spacingAndGlyphs">III</text>
<text class="bl" x="655.6" y="469.3" font-size="11" textLength="9.2" lengthAdjust="spacingAndGlyphs">IV</text>
<text class="bl" x="655.6" y="532.3" font-size="11" textLength="7.0" lengthAdjust="spacingAndGlyphs">V</text>
<text class="bl" x="654.1" y="556.9" font-size="11" textLength="9.5" lengthAdjust="spacingAndGlyphs">VI</text>
<text class="bl" x="652.2" y="602.5" font-size="11" textLength="12.6" lengthAdjust="spacingAndGlyphs">VII</text>
<text class="bl" x="650.7" y="632.1" font-size="11" textLength="15.9" lengthAdjust="spacingAndGlyphs">VIII</text>
<text class="bl" x="654.1" y="655.8" font-size="11" textLength="9.5" lengthAdjust="spacingAndGlyphs">IX</text>
<text class="bl" x="655.6" y="696.3" font-size="11" textLength="6.5" lengthAdjust="spacingAndGlyphs">X</text>
<text class="bl" x="654.4" y="764.7" font-size="11" textLength="9.2" lengthAdjust="spacingAndGlyphs">XI</text>
<text class="bl" x="653.0" y="820.2" font-size="11" textLength="12.1" lengthAdjust="spacingAndGlyphs">XII</text>
<text class="bl" x="651.2" y="850.5" font-size="11" textLength="15.1" lengthAdjust="spacingAndGlyphs">XIII</text>
<text class="bl" x="648.2" y="903.8" font-size="11" textLength="18.1" lengthAdjust="spacingAndGlyphs">XIIII</text>
<text class="bl" x="653.0" y="921.9" font-size="11" textLength="13.6" lengthAdjust="spacingAndGlyphs">XV</text>
<text class="bl" x="671.7" y="951.2" font-size="11.2" text-anchor="end" textLength="30.4" lengthAdjust="spacingAndGlyphs">Sect.1</text>
<text class="bl" x="671.5" y="971.4" font-size="7.25" stroke="#000" stroke-width="0.2" text-anchor="end">Sect. <tspan font-style="italic">Leucocarpi</tspan></text>
<text class="bl" x="671.5" y="982.6" font-size="4.75" text-anchor="end">Subg. Minoriopsis</text>
<rect x="385.2" y="224.90" width="15.0" height="6.2" fill="#1a1ae8"/>
<text class="rb" x="392.70" y="230.00" text-anchor="middle">EUP</text>
<rect x="385.2" y="231.10" width="15.0" height="6.2" fill="#30e030"/>
<text class="rb" x="392.70" y="236.20" text-anchor="middle">TBP</text>
<rect x="385.2" y="237.30" width="15.0" height="6.2" fill="#1a1ae8"/>
<text class="rb" x="392.70" y="242.40" text-anchor="middle">ALK</text>
<rect x="385.2" y="243.50" width="15.0" height="6.2" fill="#b838cc"/>
<text class="rb" x="392.70" y="248.60" text-anchor="middle">ASS</text>
<rect x="385.5" y="297.50" width="15.0" height="6.2" fill="#e61414"/>
<text class="rb" x="393.00" y="302.60" text-anchor="middle">AST</text>
<rect x="385.5" y="303.70" width="15.0" height="6.2" fill="#b838cc"/>
<text class="rb" x="393.00" y="308.80" text-anchor="middle">ASS</text>
<rect x="374.7" y="384.00" width="15.0" height="6.2" fill="#e61414"/>
<text class="rb" x="382.20" y="389.10" text-anchor="middle">AST</text>
<rect x="374.7" y="390.20" width="15.0" height="6.2" fill="#b838cc"/>
<text class="rb" x="382.20" y="395.30" text-anchor="middle">ASS</text>
<rect x="376.8" y="484.30" width="15.0" height="6.2" fill="#e61414"/>
<text class="rb" x="384.30" y="489.40" text-anchor="middle">AST</text>
<rect x="376.8" y="490.50" width="15.0" height="6.2" fill="#b838cc"/>
<text class="rb" x="384.30" y="495.60" text-anchor="middle">ASS</text>
<rect x="374.3" y="525.50" width="15.0" height="6.2" fill="#e61414"/>
<text class="rb" x="381.80" y="530.60" text-anchor="middle">AST</text>
<rect x="361.3" y="549.90" width="15.0" height="6.2" fill="#e61414"/>
<text class="rb" x="368.80" y="555.00" text-anchor="middle">AST</text>
<rect x="361.3" y="556.10" width="15.0" height="6.2" fill="#b838cc"/>
<text class="rb" x="368.80" y="561.20" text-anchor="middle">ASS</text>
<rect x="361.3" y="562.30" width="15.0" height="6.2" fill="#e61414"/>
<text class="rb" x="368.80" y="567.40" text-anchor="middle">AFT</text>
<rect x="424.0" y="599.50" width="15.0" height="6.2" fill="#1a1ae8"/>
<text class="rb" x="431.50" y="604.60" text-anchor="middle">NEA</text>
<rect x="424.0" y="605.70" width="15.0" height="6.2" fill="#1a1ae8"/>
<text class="rb" x="431.50" y="610.80" text-anchor="middle">NWA</text>
<rect x="471.9" y="623.20" width="15.0" height="6.2" fill="#e61414"/>
<text class="rb" x="479.40" y="628.30" text-anchor="middle">AUS</text>
<rect x="471.9" y="629.40" width="15.0" height="6.2" fill="#1a1ae8"/>
<text class="rb" x="479.40" y="634.50" text-anchor="middle">NZL</text>
<rect x="392.5" y="690.20" width="15.0" height="6.2" fill="#30e030"/>
<text class="rb" x="400.00" y="695.30" text-anchor="middle">TBP</text>
<rect x="392.5" y="696.40" width="15.0" height="6.2" fill="#b838cc"/>
<text class="rb" x="400.00" y="701.50" text-anchor="middle">ASS</text>
<rect x="398.2" y="780.80" width="15.0" height="6.2" fill="#b838cc"/>
<text class="rb" x="405.70" y="785.90" text-anchor="middle">ASS</text>
<rect x="398.2" y="787.00" width="15.0" height="6.2" fill="#e61414"/>
<text class="rb" x="405.70" y="792.10" text-anchor="middle">AST</text>
<rect x="398.2" y="815.20" width="15.0" height="6.2" fill="#e61414"/>
<text class="rb" x="405.70" y="820.30" text-anchor="middle">AUS</text>
<rect x="320.0" y="848.00" width="15.0" height="6.2" fill="#e61414"/>
<text class="rb" x="327.50" y="853.10" text-anchor="middle">AST</text>
<rect x="320.0" y="854.20" width="15.0" height="6.2" fill="#e61414"/>
<text class="rb" x="327.50" y="859.30" text-anchor="middle">AUS</text>
<rect x="363.4" y="894.60" width="15.0" height="6.2" fill="#e61414"/>
<text class="rb" x="370.90" y="899.70" text-anchor="middle">AST</text>
<rect x="405.3" y="911.40" width="15.0" height="6.2" fill="#1a1ae8"/>
<text class="rb" x="412.80" y="916.50" text-anchor="middle">NZL</text>
<rect x="405.3" y="917.60" width="15.0" height="6.2" fill="#1a1ae8"/>
<text class="rb" x="412.80" y="922.70" text-anchor="middle">ALK</text>
<rect x="239.9" y="944.00" width="15.0" height="6.2" fill="#b838cc"/>
<text class="rb" x="247.40" y="949.10" text-anchor="middle">ASS</text>
<rect x="239.9" y="950.20" width="15.0" height="6.2" fill="#e61414"/>
<text class="rb" x="247.40" y="955.30" text-anchor="middle">AMT</text>
<rect x="196.5" y="962.80" width="15.0" height="6.2" fill="#b838cc"/>
<text class="rb" x="204.00" y="967.90" text-anchor="middle">ASS</text>
<rect x="196.5" y="969.00" width="15.0" height="6.2" fill="#e61414"/>
<text class="rb" x="204.00" y="974.10" text-anchor="middle">AST</text>
<rect x="239.9" y="977.80" width="15.0" height="6.2" fill="#e61414"/>
<text class="rb" x="247.40" y="982.90" text-anchor="middle">AMT</text>
<text class="bl" x="174.4" y="897.4" font-size="7.1" stroke="#000" stroke-width="0.25">Sect. <tspan font-style="italic">Minores</tspan></text>
<path d="M208.4 900.8L218.2 909.6" stroke="#111" stroke-width="1.9"/>
<path d="M221.6 913.1L214.6 912.4L220.9 906.0Z" fill="#111"/>
<rect x="56.8" y="20.10" width="15" height="6.38" fill="#1a1ae8"/>
<text class="rb" x="64.3" y="25.28" text-anchor="middle">EUP</text>
<text class="lg" x="74" y="25.28">Europe (Temperate)</text>
<rect x="56.8" y="26.48" width="15" height="6.38" fill="#1a1ae8"/>
<text class="rb" x="64.3" y="31.66" text-anchor="middle">NEA</text>
<text class="lg" x="74" y="31.66">Northeast Asia (Temperate)</text>
<rect x="56.8" y="32.86" width="15" height="6.38" fill="#1a1ae8"/>
<text class="rb" x="64.3" y="38.04" text-anchor="middle">NZL</text>
<text class="lg" x="74" y="38.04">New Zealand (Temperate)</text>
<rect x="56.8" y="39.24" width="15" height="6.38" fill="#1a1ae8"/>
<text class="rb" x="64.3" y="44.42" text-anchor="middle">NWA</text>
<text class="lg" x="74" y="44.42">Northwest America (Temperate)</text>
<rect x="56.8" y="45.62" width="15" height="6.38" fill="#1a1ae8"/>
<text class="rb" x="64.3" y="50.80" text-anchor="middle">ALK</text>
<text class="lg" x="74" y="50.80">Alaska (Cold Temperate)</text>
<rect x="56.8" y="52.00" width="15" height="6.38" fill="#30e030"/>
<text class="rb" x="64.3" y="57.18" text-anchor="middle">TBP</text>
<text class="lg" x="74" y="57.18">Tibet (Plateau)</text>
<rect x="56.8" y="58.38" width="15" height="6.38" fill="#b838cc"/>
<text class="rb" x="64.3" y="63.56" text-anchor="middle">ASS</text>
<text class="lg" x="74" y="63.56">Asia (Sub-tropic )</text>
<rect x="56.8" y="64.76" width="15" height="6.38" fill="#e61414"/>
<text class="rb" x="64.3" y="69.94" text-anchor="middle">AUS</text>
<text class="lg" x="74" y="69.94">Australia (Tropic)</text>
<rect x="56.8" y="71.14" width="15" height="6.38" fill="#e61414"/>
<text class="rb" x="64.3" y="76.32" text-anchor="middle">AST</text>
<text class="lg" x="74" y="76.32">Asia (Tropic)</text>
<rect x="56.8" y="77.52" width="15" height="6.38" fill="#e61414"/>
<text class="rb" x="64.3" y="82.70" text-anchor="middle">AFT</text>
<text class="lg" x="74" y="82.70">Afirca (Tropic )</text>
<rect x="56.8" y="83.90" width="15" height="6.38" fill="#e61414"/>
<text class="rb" x="64.3" y="89.08" text-anchor="middle">AMT</text>
<text class="lg" x="74" y="89.08">America (Tropic )</text>
<circle cx="64.2" cy="97.80" r="4.1" fill="#1010ee"/>
<text class="lg" x="74.9" y="101.90">Temperate</text>
<circle cx="64.2" cy="106.10" r="4.1" fill="#18ec30"/>
<text class="lg" x="74.9" y="110.20">Plateau</text>
<circle cx="64.2" cy="114.40" r="4.1" fill="#c838cc"/>
<text class="lg" x="74.9" y="118.50">Sub-tropical</text>
<circle cx="64.2" cy="122.70" r="4.1" fill="#f00a0a"/>
<text class="lg" x="74.9" y="126.80">Tropocal</text>
<rect x="39.4" y="999.1" width="496.4" height="11.5" fill="#fff" stroke="#8a8a8a" stroke-width="0.8"/>
<rect x="56.0" y="999.1" width="155.8" height="11.5" fill="#474747"/>
<rect x="462.5" y="999.1" width="39.0" height="11.5" fill="#474747"/>
<text x="131.5" y="1007.6" font-size="8.3" font-weight="bold" fill="#fff" text-anchor="middle">oligocene</text>
<text x="348.3" y="1007.6" font-size="8.3" font-weight="bold" fill="#333" text-anchor="middle">Miocene</text>
<text x="482" y="1007.8" font-size="8.3" font-weight="bold" fill="#fff" text-anchor="middle">Plio</text>
<text x="518.6" y="1007.8" font-size="8.3" font-weight="bold" fill="#333" text-anchor="middle">Ple</text>
<path d="M40.1 1010.6v1.6M75.5 1010.6v1.6M110.9 1010.6v1.6M146.3 1010.6v1.6M181.6 1010.6v1.6M217.0 1010.6v1.6M252.4 1010.6v1.6M287.8 1010.6v1.6M323.1 1010.6v1.6M358.5 1010.6v1.6M393.9 1010.6v1.6M429.3 1010.6v1.6M464.6 1010.6v1.6M500.0 1010.6v1.6M535.4 1010.6v1.6" stroke="#777" stroke-width="0.8"/>
<text class="ax" x="40.1" y="1021.4" text-anchor="middle">35.0</text>
<text class="ax" x="110.9" y="1021.4" text-anchor="middle">30.0</text>
<text class="ax" x="181.6" y="1021.4" text-anchor="middle">25.0</text>
<text class="ax" x="252.4" y="1021.4" text-anchor="middle">20.0</text>
<text class="ax" x="323.1" y="1021.4" text-anchor="middle">15.0</text>
<text class="ax" x="393.9" y="1021.4" text-anchor="middle">10.0</text>
<text class="ax" x="464.6" y="1021.4" text-anchor="middle">5.0</text>
<text class="ax" x="535.4" y="1021.4" text-anchor="middle">0.0</text>
</svg></body></html>
